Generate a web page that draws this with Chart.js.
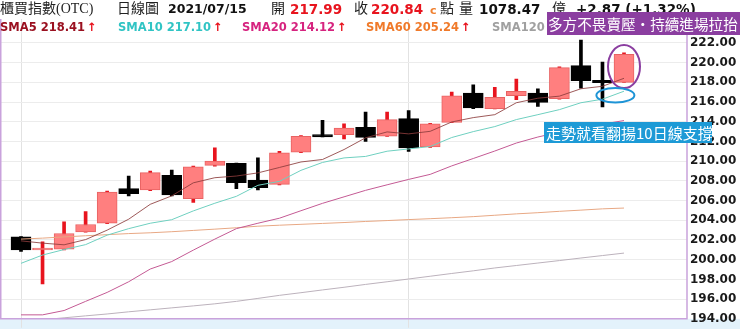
<!DOCTYPE html>
<html>
<head>
<meta charset="utf-8">
<script src="https://cdn.jsdelivr.net/npm/chart.js@4.4.1/dist/chart.umd.min.js"></script>
<style>
  body { margin: 0; background: #fff; overflow: hidden; }
  #wrap { position: relative; width: 740px; height: 329px; }
  #grafico { position: absolute; left: 0; top: 0; }
  .t { position: absolute; white-space: nowrap; line-height: 16px; }
  .cjk { font-family: "Liberation Serif", "Noto Sans CJK TC", serif; font-size: 14px; color: #222; top: 1px; }
  .num { font-family: "DejaVu Sans", sans-serif; font-weight: bold; font-size: 13.5px; top: 1px; }
  .leg { font-family: "DejaVu Sans", sans-serif; font-weight: bold; font-size: 11.5px; top: 19px; }
  .seta { color: #e8101a; margin-left: 2px; }
  .nota { position: absolute; color: #fff; font-family: "Noto Sans CJK TC", sans-serif; white-space: nowrap; }
</style>
</head>
<body>
<div id="wrap">
  <canvas id="grafico" width="740" height="329"></canvas>

  <span class="t cjk" style="left:0">櫃買指數(OTC)</span>
  <span class="t cjk" style="left:117px">日線圖</span>
  <span class="t num" style="left:168px;color:#111;font-size:12.5px">2021/07/15</span>
  <span class="t cjk" style="left:271px">開</span>
  <span class="t num" style="left:290px;color:#e8141e">217.99</span>
  <span class="t cjk" style="left:354px">收</span>
  <span class="t num" style="left:371px;color:#e8141e">220.84</span>
  <span class="t num" style="left:430px;color:#f08030;font-size:11px;top:3px">c</span>
  <span class="t cjk" style="left:440px">點</span>
  <span class="t cjk" style="left:459px">量</span>
  <span class="t num" style="left:479px;color:#111">1078.47</span>
  <span class="t cjk" style="left:552px">億</span>
  <span class="t num" style="left:576px;color:#111">+2.87 (+1.32%)</span>

  <span class="t leg" style="left:0;color:#9a1020">SMA5 218.41<span class="seta">↑</span></span>
  <span class="t leg" style="left:118px;color:#30c4c4">SMA10 217.10<span class="seta">↑</span></span>
  <span class="t leg" style="left:242px;color:#d6237f">SMA20 214.12<span class="seta">↑</span></span>
  <span class="t leg" style="left:366px;color:#f07a2a">SMA60 205.24<span class="seta">↑</span></span>
  <span class="t leg" style="left:492px;color:#a0a0a0">SMA120</span>

  <div class="nota" style="left:547px;top:12px;width:193px;height:23px;line-height:23px;font-size:14.6px;background:#8b3ea0;padding-left:1px;box-sizing:border-box">多方不畏賣壓・持續進場拉抬</div>
  <div class="nota" style="left:544px;top:122px;width:168px;height:21px;line-height:21px;font-size:15px;background:#1d9ad6;padding-left:2px;box-sizing:border-box">走勢就看翻揚10日線支撐</div>
</div>

<script>
// Dados
const datas = ["06/04", "06/07", "06/08", "06/09", "06/10", "06/11", "06/15", "06/16", "06/17", "06/18",
  "06/21", "06/22", "06/23", "06/24", "06/25", "06/28", "06/29", "06/30", "07/01", "07/02",
  "07/05", "07/06", "07/07", "07/08", "07/09", "07/12", "07/13", "07/14", "07/15"];
const abertura = [202.32, 200.98, 201.08, 202.82, 203.7, 207.21, 207.07, 208.55, 206.2, 209.57,
  209.77, 208.08, 207.65, 210.91, 212.7, 212.7, 213.43, 212.53, 214.32, 211.45,
  213.94, 216.91, 215.33, 216.64, 216.91, 216.34, 219.7, 218.2, 217.99];
const maxima = [202.35, 201.81, 203.84, 204.89, 206.97, 208.49, 209.0, 209.09, 209.5, 211.35,
  209.8, 210.34, 211.0, 212.6, 214.15, 213.78, 214.99, 214.99, 215.13, 213.84,
  217.0, 217.75, 217.5, 218.33, 217.35, 219.57, 222.3, 220.05, 221.0];
const minima = [200.84, 197.54, 201.0, 202.8, 203.65, 206.47, 207.0, 206.47, 205.8, 209.5,
  207.21, 207.07, 207.6, 210.85, 212.45, 212.26, 212.0, 212.5, 211.0, 211.4,
  213.9, 215.33, 215.3, 216.24, 215.56, 216.3, 217.42, 215.5, 217.99];
const fechamento = [201.0, 201.1, 202.66, 203.57, 206.87, 206.71, 208.83, 206.57, 209.43, 210.0,
  207.82, 207.31, 210.85, 212.53, 212.47, 213.37, 212.42, 214.21, 211.35, 213.78,
  216.64, 215.4, 216.48, 217.08, 215.96, 219.5, 218.16, 217.97, 220.84];

const sma5 = [201.91, 201.68, 201.51, 202.04, 203.0, 204.11, 205.62, 206.48, 207.8, 208.32,
  208.49, 208.81, 209.36, 209.92, 210.17, 211.18, 212.37, 212.97, 212.77, 213.03,
  213.98, 214.42, 214.72, 215.93, 216.39, 216.6, 217.35, 217.6, 218.41];
const sma10 = [199.63, 200.47, 201.03, 201.53, 202.49, 203.15, 203.7, 204.06, 204.95, 205.73,
  206.43, 207.55, 207.95, 209.07, 209.87, 210.33, 210.48, 211.01, 211.24, 211.49,
  212.4, 213.0, 213.51, 214.22, 214.72, 215.23, 215.93, 216.29, 217.1];
const sma20 = [194.4, 194.4, 194.84, 195.77, 196.68, 197.76, 199.05, 199.81, 200.97, 202.09,
  203.15, 203.7, 204.21, 204.97, 205.72, 206.38, 207.04, 207.6, 208.15, 208.66,
  209.52, 210.27, 211.03, 211.84, 212.45, 212.95, 213.41, 213.76, 214.12];
const sma60 = [202.09, 202.19, 202.31, 202.43, 202.54, 202.65, 202.73, 202.84, 202.97, 203.1,
  203.24, 203.4, 203.5, 203.59, 203.68, 203.77, 203.88, 203.97, 204.07, 204.16,
  204.26, 204.37, 204.51, 204.65, 204.77, 204.91, 205.03, 205.16, 205.24];
const sma120 = [193.7, 193.9, 194.1, 194.3, 194.49, 194.71, 194.91, 195.11, 195.31, 195.52,
  195.77, 196.07, 196.38, 196.65, 196.93, 197.2, 197.49, 197.76, 198.04, 198.32,
  198.6, 198.87, 199.16, 199.41, 199.66, 199.91, 200.17, 200.42, 200.67];

const yMin = 194;
const yMax = 224.43;
const linhasGrade = [0, 18]; // índices com linha vertical

const sobe = abertura.map((o, i) => fechamento[i] >= o);
const ponto = (arr) => arr.map((v, i) => ({ x: i, y: v }));
const linha = (arr, cor) => ({
  type: "line",
  data: ponto(arr),
  borderColor: cor,
  borderWidth: 1,
  pointRadius: 0,
  tension: 0,
});

// Fundo azul embaixo, bordas e elipses
const extras = {
  id: "extras",
  beforeDraw(chart) {
    const { ctx, chartArea } = chart;
    ctx.save();
    ctx.fillStyle = "#e3f2fb";
    ctx.fillRect(0, chartArea.bottom, chart.width, chart.height - chartArea.bottom);
    ctx.restore();
  },
  afterDraw(chart) {
    const { ctx, chartArea, scales } = chart;
    ctx.save();
    ctx.strokeStyle = "#c9a2dc";
    ctx.lineWidth = 1.5;
    ctx.beginPath();
    ctx.moveTo(0.75, chartArea.top);
    ctx.lineTo(0.75, chartArea.bottom);
    ctx.lineTo(chartArea.right, chartArea.bottom);
    ctx.lineTo(chartArea.right, chartArea.top);
    ctx.stroke();

    ctx.lineWidth = 2;
    ctx.strokeStyle = "#8b3ea0";
    ctx.beginPath();
    ctx.ellipse(scales.x.getPixelForValue(28), scales.y.getPixelForValue(219.6), 16, 21.5, 0, 0, Math.PI * 2);
    ctx.stroke();
    ctx.strokeStyle = "#1e94d6";
    ctx.beginPath();
    ctx.ellipse(scales.x.getPixelForValue(27.6), scales.y.getPixelForValue(216.69), 19, 7.3, 0, 0, Math.PI * 2);
    ctx.stroke();
    ctx.restore();
  },
};

let grafico = new Chart(document.getElementById("grafico"), {
  type: "bar",
  data: {
    labels: datas,
    datasets: [
      linha(sma5, "rgba(140,60,60,0.85)"),
      linha(sma10, "#6fd0c0"),
      linha(sma20, "#c45a94"),
      linha(sma60, "#e8a884"),
      linha(sma120, "#bcb2bc"),
      {
        // corpo
        data: datas.map((d, i) => ({ x: i, y: [abertura[i], fechamento[i]] })),
        backgroundColor: sobe.map((s) => (s ? "#ff7f7f" : "#000")),
        borderColor: sobe.map((s) => (s ? "#e86262" : "#000")),
        borderWidth: 1,
        borderSkipped: false,
        barThickness: 20,
        minBarLength: 2,
        grouped: false,
      },
      {
        // sombra
        data: datas.map((d, i) => ({ x: i, y: [minima[i], maxima[i]] })),
        backgroundColor: sobe.map((s) => (s ? "#e8141e" : "#000")),
        barThickness: 3,
        grouped: false,
      },
    ],
  },
  options: {
    responsive: false,
    animation: false,
    devicePixelRatio: 1,
    layout: { padding: { left: 1, top: 19, right: 0, bottom: 0 } },
    plugins: {
      legend: { display: false },
      tooltip: { enabled: false },
    },
    scales: {
      x: {
        type: "linear",
        offset: false,
        min: -0.929,
        max: 30.925,
        afterBuildTicks: (scale) => {
          scale.ticks = linhasGrade.map((v) => ({ value: v }));
        },
        afterFit: (scale) => {
          scale.height = 9;
        },
        ticks: { display: false },
        grid: { color: "#e2e2e2", tickLength: 9, offset: false },
        border: { display: false },
      },
      y: {
        position: "right",
        min: yMin,
        max: yMax,
        afterFit: (scale) => {
          scale.width = 53;
        },
        ticks: {
          stepSize: 2,
          padding: 3,
          color: "#1a1a1a",
          font: { family: "DejaVu Sans", weight: "bold", size: 12 },
          callback: (v) => (v > 222.5 ? "" : Number(v).toFixed(2)),
        },
        grid: {
          color: (c) => (c.tick.value > 222.5 ? "transparent" : "#ececec"),
          drawTicks: false,
        },
        border: { display: false },
      },
    },
  },
  plugins: [extras],
});
</script>
</body>
</html>
